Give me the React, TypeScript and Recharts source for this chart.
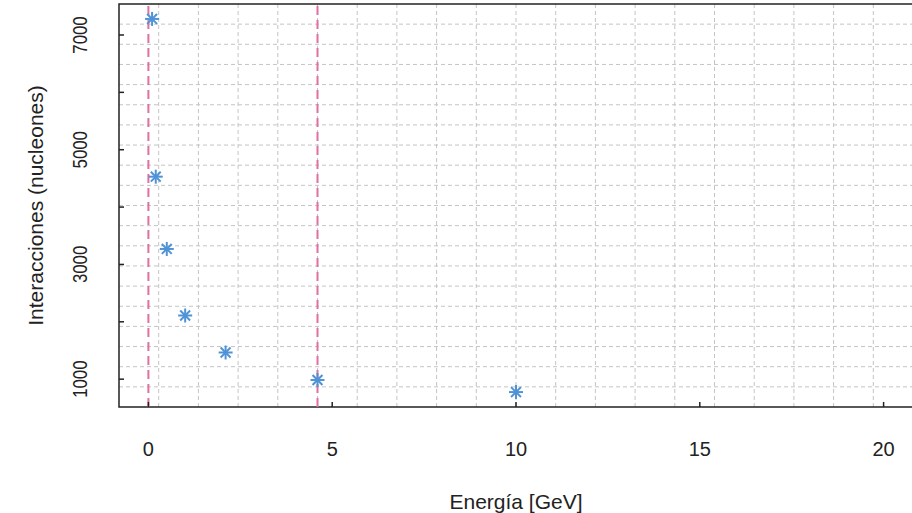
import { ScatterChart, Scatter, XAxis, YAxis, CartesianGrid, ReferenceLine, ReferenceArea } from 'recharts';

// energía del haz [GeV] y número de interacciones
const energia = [0.1, 0.2, 0.5, 1, 2.1, 4.6, 10];
const interacciones = [7280, 4530, 3270, 2110, 1465, 985, 775];

const xTicks = [0, 5, 10, 15, 20];
const yTicks = [1000, 2000, 3000, 4000, 5000, 6000, 7000];
const yLabels = [1000, 3000, 5000, 7000];
const cortes = [0, 4.6];
const xLim = [0, 20];

const FONT = '"Liberation Sans", Arial, sans-serif';
const AZUL = '#4f93d6';
const ROSA = '#e0709f';

// extensión del 4% como en R
const ext = (lo: number, hi: number) => {
  const d = (hi - lo) * 0.04;
  return [lo - d, hi + d];
};
const xDomain = ext(xLim[0], xLim[1]);
const yDomain = ext(Math.min(...interacciones), Math.max(...interacciones));

const data = energia.map((e, i) => ({ e, n: interacciones[i] }));

const Asterisco = (props: any) => {
  const { cx, cy } = props;
  const r = 7;
  const d = r * Math.SQRT1_2;
  return (
    <g stroke={AZUL} strokeWidth={2}>
      <line x1={cx - r} y1={cy} x2={cx + r} y2={cy} />
      <line x1={cx} y1={cy - r} x2={cx} y2={cy + r} />
      <line x1={cx - d} y1={cy - d} x2={cx + d} y2={cy + d} />
      <line x1={cx - d} y1={cy + d} x2={cx + d} y2={cy - d} />
    </g>
  );
};

const XTick = ({ x, y, payload }: any) => (
  <g>
    <line x1={x} x2={x} y1={y} y2={y - 5} stroke="#222" strokeWidth={1.5} />
    <text x={x} y={y + 42} textAnchor="middle" dominantBaseline="central" fontSize={20} fontFamily={FONT} fill="#222">
      {payload.value}
    </text>
  </g>
);

const YTick = ({ x, y, payload }: any) => (
  <g>
    <line x1={x} x2={x + 5} y1={y} y2={y} stroke="#222" strokeWidth={1.5} />
    {yLabels.includes(payload.value) && (
      <text
        x={0}
        y={0}
        transform={`translate(${x - 39}, ${y}) rotate(-90) scale(0.8, 1)`}
        textAnchor="middle"
        dominantBaseline="central"
        fontSize={21}
        fontFamily={FONT}
        fill="#222"
      >
        {payload.value}
      </text>
    )}
  </g>
);

const divisiones = (ini: number, largo: number) =>
  Array.from({ length: 19 }, (_, k) => ini + (largo * (k + 1)) / 20);

export default function App() {
  return (
    <div style={{ position: 'fixed', top: 0, left: 0, width: 912, height: 513, overflow: 'hidden', background: '#fff' }}>
      <ScatterChart width={914} height={513} margin={{ top: 4, right: 1, bottom: 0, left: 0 }}>
        <CartesianGrid
          stroke="#c4c4c4"
          strokeDasharray="4 3"
          horizontalCoordinatesGenerator={({ offset }: any) => divisiones(offset.top, offset.height)}
          verticalCoordinatesGenerator={({ offset }: any) => divisiones(offset.left, offset.width)}
        />
        <XAxis
          type="number"
          dataKey="e"
          domain={xDomain}
          ticks={xTicks}
          allowDataOverflow
          height={106}
          axisLine={false}
          tickLine={false}
          tickSize={0}
          tickMargin={0}
          tick={<XTick />}
          label={({ viewBox }: any) => (
            <text
              x={viewBox.x + viewBox.width / 2}
              y={viewBox.y + 94}
              textAnchor="middle"
              dominantBaseline="central"
              fontSize={21}
              fontFamily={FONT}
              fill="#222"
            >
              Energía [GeV]
            </text>
          )}
        />
        <YAxis
          type="number"
          dataKey="n"
          domain={yDomain}
          ticks={yTicks}
          allowDataOverflow
          width={119}
          axisLine={false}
          tickLine={false}
          tickSize={0}
          tickMargin={0}
          tick={<YTick />}
          label={({ viewBox }: any) => {
            const cx = viewBox.x + viewBox.width - 84;
            const cy = viewBox.y + viewBox.height / 2;
            return (
              <text
                x={cx}
                y={cy}
                transform={`rotate(-90, ${cx}, ${cy})`}
                textAnchor="middle"
                dominantBaseline="central"
                fontSize={21}
                fontFamily={FONT}
                fill="#222"
              >
                Interacciones (nucleones)
              </text>
            );
          }}
        />
        {cortes.map((c) => (
          <ReferenceLine key={c} x={c} stroke={ROSA} strokeWidth={2} strokeDasharray="9 5" />
        ))}
        <ReferenceArea
          x1={xDomain[0]}
          x2={xDomain[1]}
          y1={yDomain[0]}
          y2={yDomain[1]}
          fill="none"
          stroke="#222"
          strokeWidth={1.5}
        />
        <Scatter data={data} shape={<Asterisco />} isAnimationActive={false} />
      </ScatterChart>
    </div>
  );
}
